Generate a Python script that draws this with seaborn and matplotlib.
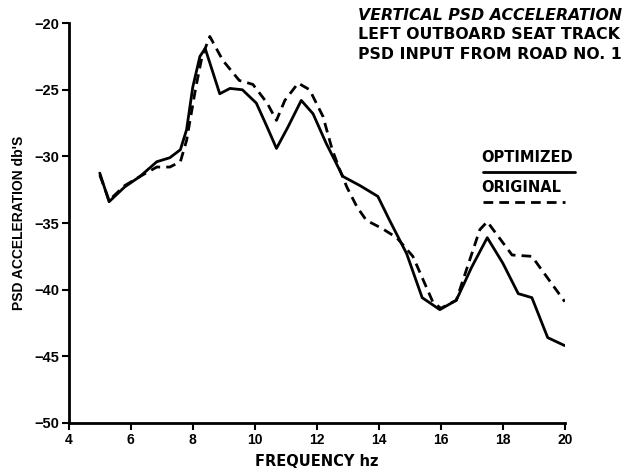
import matplotlib
matplotlib.use("Agg")
import matplotlib.pyplot as plt
import seaborn as sns
import pandas as pd

freq_opt = [5.0, 5.3, 5.8, 6.3, 6.84, 7.26, 7.6, 7.8, 8.0, 8.23, 8.4, 8.87, 9.2, 9.6,
            10.05, 10.4, 10.7, 11.07, 11.5, 11.88, 12.3, 12.84, 13.4, 13.97, 14.35,
            14.9, 15.4, 15.97, 16.5, 17.0, 17.5, 18.0, 18.5, 18.94, 19.45, 20.0]
psd_opt = [-31.25, -33.4, -32.3, -31.5, -30.4, -30.1, -29.5, -28.0, -24.8, -22.5, -21.9,
           -25.3, -24.9, -25.0, -26.0, -27.8, -29.4, -27.8, -25.8, -26.8, -29.0, -31.5,
           -32.2, -33.0, -34.8, -37.3, -40.6, -41.5, -40.8, -38.3, -36.1, -38.0, -40.3,
           -40.6, -43.6, -44.2]

freq_orig = [5.0, 5.3, 5.8, 6.3, 6.84, 7.26, 7.6, 7.8, 8.1, 8.3, 8.55, 8.97, 9.5, 9.94,
             10.4, 10.7, 10.97, 11.4, 11.77, 12.2, 12.5, 12.74, 12.97, 13.3, 13.6, 14.1,
             14.58, 15.1, 15.74, 16.0, 16.5, 17.26, 17.5, 18.3, 18.94, 20.0]
psd_orig = [-31.4, -33.3, -32.2, -31.5, -30.8, -30.8, -30.4, -28.8, -24.8, -22.5, -21.0,
            -22.8, -24.3, -24.6, -26.0, -27.3, -25.8, -24.5, -25.0, -27.0, -29.5, -31.0,
            -32.3, -33.8, -34.8, -35.4, -36.1, -37.5, -40.9, -41.4, -40.8, -35.5, -34.9,
            -37.4, -37.5, -40.9]

x_ticks = [4, 6, 8, 10, 12, 14, 16, 18, 20]
y_ticks = [-50, -45, -40, -35, -30, -25, -20]
title_lines = ["VERTICAL PSD ACCELERATION", "LEFT OUTBOARD SEAT TRACK",
               "PSD INPUT FROM ROAD NO. 1"]
legend_labels = ["OPTIMIZED", "ORIGINAL"]

sns.set_style("ticks")
plt.rcParams["font.family"] = ["Liberation Sans", "DejaVu Sans"]
plt.rcParams["font.weight"] = "bold"
for k in ["text.color", "axes.labelcolor", "xtick.color", "ytick.color", "axes.edgecolor"]:
    plt.rcParams[k] = "black"
WIDE = ["DejaVu Sans"]

fig = plt.figure(figsize=(6.31, 4.72), dpi=100)
ax = fig.add_axes([0.109, 0.104, 0.786, 0.847])

df_opt = pd.DataFrame({"freq": freq_opt, "psd": psd_opt})
df_orig = pd.DataFrame({"freq": freq_orig, "psd": psd_orig})
sns.lineplot(data=df_opt, x="freq", y="psd", ax=ax, color="black", lw=2.0,
             sort=False, estimator=None)
sns.lineplot(data=df_orig, x="freq", y="psd", ax=ax, color="black", lw=2.0,
             sort=False, estimator=None, dashes=False)
ax.lines[-1].set_dashes([3.5, 2.2])

ax.set_xlim(4, 20)
ax.set_ylim(-50, -20)
ax.set_xticks(x_ticks)
ax.set_yticks(y_ticks)
ax.set_xticklabels([str(t) for t in x_ticks], fontsize=10, fontweight="bold")
ax.set_yticklabels(["\u2212%d" % abs(t) for t in y_ticks], fontsize=10.5, fontweight="bold")
ax.tick_params(axis="both", length=5, width=1.5, color="black", pad=2)
for s in ["top", "right"]:
    ax.spines[s].set_visible(False)
for s in ["left", "bottom"]:
    ax.spines[s].set_linewidth(2.0)
    ax.spines[s].set_color("black")

ax.set_xlabel("FREQUENCY hz", fontsize=10.5, fontweight="bold", labelpad=5, family=WIDE)
ax.set_ylabel("PSD ACCELERATION db'S", fontsize=10, fontweight="bold", labelpad=6)

# title block top-right
fig.text(0.567, 0.968, title_lines[0], fontsize=11.3, fontweight="bold", style="italic",
         ha="left", va="center", family=WIDE)
fig.text(0.567, 0.926, title_lines[1], fontsize=11.3, fontweight="bold",
         ha="left", va="center", family=WIDE)
fig.text(0.567, 0.885, title_lines[2], fontsize=11.3, fontweight="bold",
         ha="left", va="center", family=WIDE)

# legend with text above line samples
tr = ax.transAxes
ax.text(0.832, 0.665, legend_labels[0], transform=tr, fontsize=10.5, fontweight="bold",
        ha="left", va="center", family=WIDE)
ax.plot([0.835, 1.02], [0.628, 0.628], transform=tr, color="black", lw=2.0, clip_on=False)
ax.text(0.832, 0.59, legend_labels[1], transform=tr, fontsize=10.5, fontweight="bold",
        ha="left", va="center", family=WIDE)
ax.plot([0.835, 1.0], [0.553, 0.553], transform=tr, color="black", lw=2.0,
        dashes=[3.5, 2.2], clip_on=False)

fig.savefig("out.png", dpi=100)
